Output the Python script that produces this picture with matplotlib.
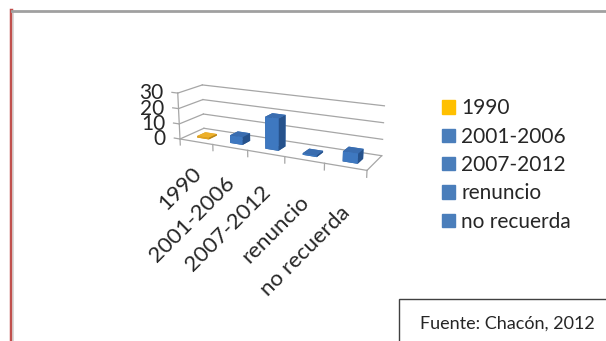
import matplotlib
matplotlib.use("Agg")
import matplotlib.pyplot as plt
from matplotlib.patches import Rectangle
from matplotlib.lines import Line2D
from mpl_toolkits.mplot3d import proj3d

categories = ["1990", "2001-2006", "2007-2012", "renuncio", "no recuerda"]
values = [1, 5, 20, 1, 6]
z_ticks = [0, 10, 20, 30]
legend_colors = ["#FFC000", "#4A7EBB", "#4A7EBB", "#4A7EBB", "#4A7EBB"]
source = "Fuente: Chacón, 2012"

# face colours of the 3-D bars: bottom, top, front, back, left, right
GOLD_FACES = ["#C8921C", "#EDB02A", "#E0A220", "#E0A220", "#C8921C", "#B9861A"]
BLUE_FACES = ["#2C5C98", "#3A6DB0", "#3E78C0", "#3E78C0", "#2C5C98", "#26528C"]

plt.rcParams["font.family"] = ["Lato", "DejaVu Sans"]
GRID = "#A6A6A6"
TEXT = "#262626"
W, H = 606, 341
ASPECT = (211, 46, 51)

fig = plt.figure(figsize=(W / 100, H / 100), dpi=100)

# frame decoration of the original slide
fig.add_artist(Line2D([10.5 / W, 10.5 / W], [0, 1 - 10 / H], color="#C0504D", lw=2.5))
fig.add_artist(Line2D([13 / W, 13 / W], [0, 1 - 12 / H], color="#D9D9D9", lw=1.2))
fig.add_artist(Line2D([12 / W, 1], [1 - 10.5 / H, 1 - 10.5 / H], color="#A0A0A0", lw=2))

side = 300
ax = fig.add_axes([127 / W, 59 / H, side / W, side / H], projection="3d",
                  proj_type="persp", focal_length=0.35)
ax.view_init(elev=16, azim=-63)
ax.set_box_aspect(ASPECT, zoom=0.7)
ax.set_axis_off()
n = len(categories)
ax.set_xlim(0, n)
ax.set_ylim(0, 1)
ax.set_zlim(0, 30)


def to_px(x, y, z):
    X, Y, _ = proj3d.proj_transform(x, y, z, ax.get_proj())
    return ax.transData.transform((X, Y))


# fit the floor front edge onto the reference: (180, 139) -> (367, 168) px
fig.canvas.draw()
p0, p1 = to_px(0, 0, 0), to_px(n, 0, 0)
ax.set_box_aspect(ASPECT, zoom=0.7 * 187 / (p1[0] - p0[0]))
fig.canvas.draw()
p0 = to_px(0, 0, 0)
dx, dy = 180 - p0[0], (H - 139) - p0[1]
pos = ax.get_position(original=True)
ax.set_position([pos.x0 + dx / W, pos.y0 + dy / H, pos.width, pos.height])
fig.canvas.draw()


def xy2d(x, y, z):
    return proj3d.proj_transform(x, y, z, ax.get_proj())[:2]


# walls: horizontal gridlines on the back and left walls
for z in z_ticks:
    ax.plot([0, n], [1, 1], [z, z], color=GRID, lw=0.9)
    ax.plot([0, 0], [0, 1], [z, z], color=GRID, lw=0.9)
    ax.plot([0, -0.18], [0, 0], [z, z], color=GRID, lw=0.9)
    ax.annotate(str(z), xy=xy2d(0, 0, z), xytext=(-14, 0), textcoords="offset pixels",
                ha="right", va="center", fontsize=15, color=TEXT)
ax.plot([0, 0], [0, 0], [-4, 30], color=GRID, lw=0.9)
ax.plot([0, n], [0, 0], [0, 0], color=GRID, lw=0.9)
ax.plot([n, n], [0, 1], [0, 0], color=GRID, lw=0.9)
for i in range(1, n + 1):
    ax.plot([i, i], [0, 0], [0, -4], color=GRID, lw=0.9)

for i, v in enumerate(values):
    faces = GOLD_FACES if i == 0 else BLUE_FACES
    ax.bar3d(i + 0.32, 0.28, 0, 0.36, 0.35, v, color=faces, shade=False, edgecolor="none")
    ax.annotate(categories[i], xy=xy2d(i + 0.5, 0, 0),
                xytext=(2, -(29 + 3.5 * i)), textcoords="offset pixels", rotation=45,
                rotation_mode="anchor", ha="right", va="center", fontsize=16, color=TEXT,
                annotation_clip=False)

handles = [Rectangle((0, 0), 1, 1, color=c) for c in legend_colors]
fig.legend(handles, categories, loc="upper left", bbox_to_anchor=(434 / W, 1 - 90 / H),
           frameon=False, fontsize=15, handlelength=0.6, handleheight=0.6,
           handletextpad=0.3, labelspacing=0.4, borderaxespad=0, labelcolor=TEXT)

fig.add_artist(Rectangle((399 / W, -0.01), 0.4, (H - 299) / H + 0.01,
                         transform=fig.transFigure, fill=False, ec="#404040", lw=1))
fig.text(507 / W, 1 - 324 / H, source, ha="center", va="center", fontsize=13, color=TEXT)

fig.savefig("out.png", dpi=100)
